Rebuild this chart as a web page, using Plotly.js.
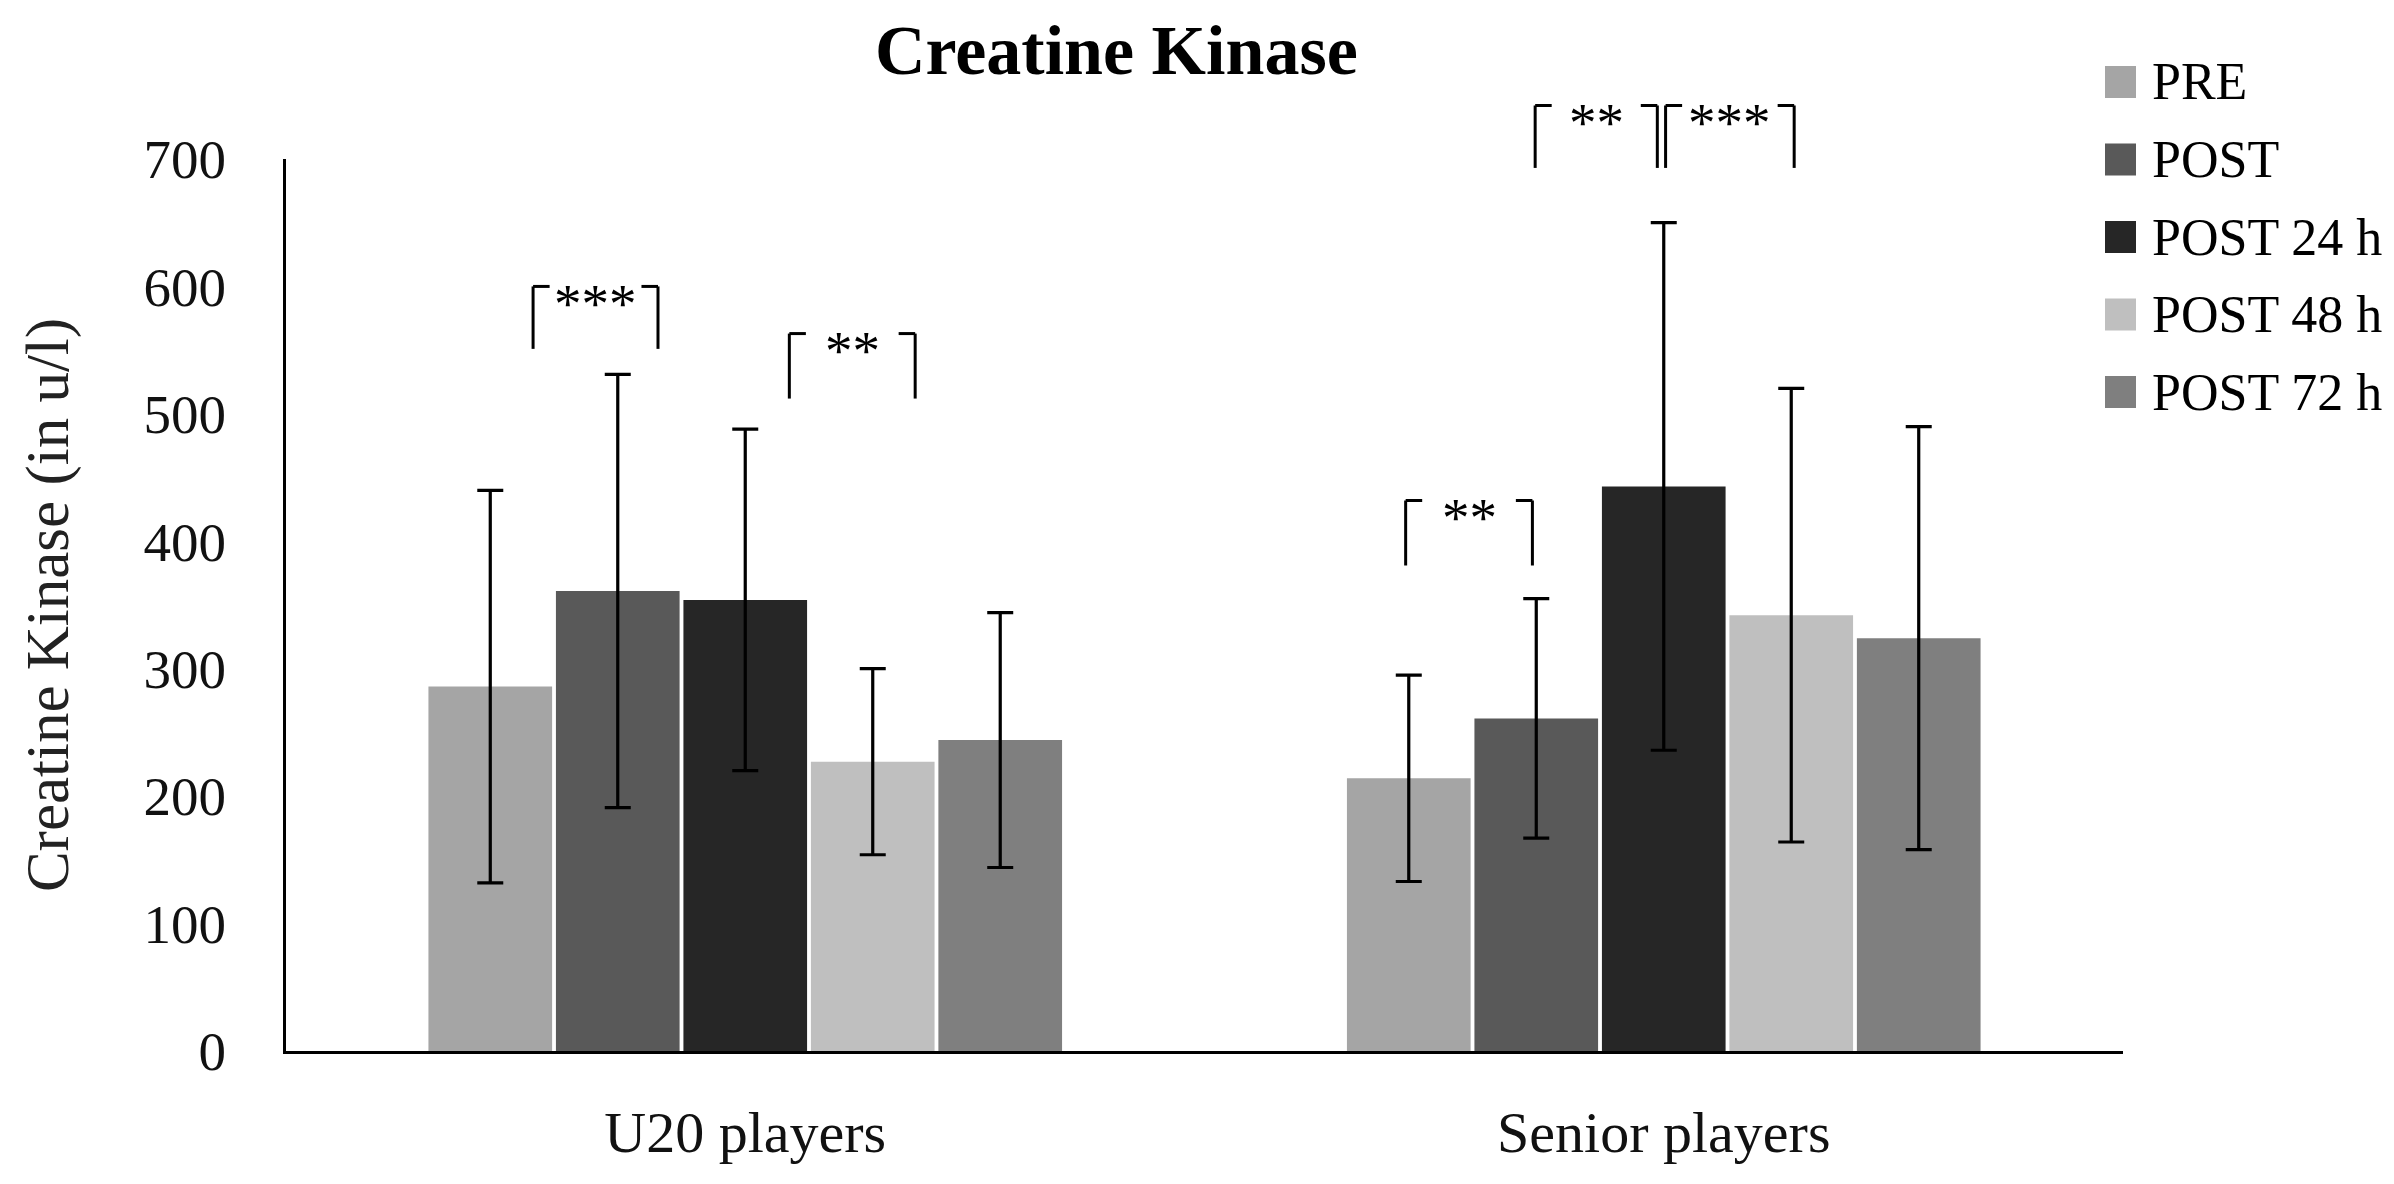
<!DOCTYPE html>
<html>
<head>
<meta charset="utf-8">
<script src="https://cdn.plot.ly/plotly-3.0.1.min.js"></script>
<style>
  html, body { margin: 0; padding: 0; background: #ffffff; }
  #chart { width: 2394px; height: 1184px; }
</style>
</head>
<body>
<div id="chart"></div>
<script>
// ---------------- data ----------------
const categories = ['U20 players', 'Senior players'];
const seriesNames = ['PRE', 'POST', 'POST 24 h', 'POST 48 h', 'POST 72 h'];

const preMean    = [286, 214];
const preSD      = [154, 81];
const postMean   = [361, 261];
const postSD     = [170, 94];
const post24Mean = [354, 443];
const post24SD   = [134, 207];
const post48Mean = [227, 342];
const post48SD   = [73, 178];
const post72Mean = [244, 324];
const post72SD   = [100, 166];

const yTickValues = [0, 100, 200, 300, 400, 500, 600, 700];

// significance brackets: span in category units, heights in u/l
const sigLabels  = ['***', '**', '**', '**', '***'];
const sigFrom    = [-0.231, 0.048, 0.719, 0.860, 1.002];
const sigTo      = [-0.095, 0.185, 0.857, 0.993, 1.142];
const sigTop     = [600, 563, 432, 742, 742];
const sigBottom  = [551, 512, 381, 693, 693];

// ---------------- styles ----------------
const seriesColors = ['#a5a5a5', '#595959', '#262626', '#bfbfbf', '#7f7f7f'];
const FONT = 'Liberation Serif, Times New Roman, serif';
const X_RANGE = [-0.5, 1.5];
const Y_RANGE = [0, 700];
const TICK_ARM = 0.018; // horizontal arm of bracket, category units

const W = 2394, H = 1184;
const M = { l: 286, r: 271, t: 159, b: 133 };
const plotW = W - M.l - M.r, plotH = H - M.t - M.b;

const means = [preMean, postMean, post24Mean, post48Mean, post72Mean];
const sds   = [preSD, postSD, post24SD, post48SD, post72SD];

const traces = seriesNames.map((name, i) => ({
  type: 'bar',
  name: name,
  x: categories,
  y: means[i],
  marker: { color: seriesColors[i], line: { width: 0 } },
  error_y: {
    type: 'data',
    array: sds[i],
    visible: true,
    color: '#000000',
    thickness: 3.2,
    width: 13
  },
  showlegend: false,
  hoverinfo: 'name+y'
}));

const px = v => (v - X_RANGE[0]) / (X_RANGE[1] - X_RANGE[0]);
const py = v => (v - Y_RANGE[0]) / (Y_RANGE[1] - Y_RANGE[0]);
// pixel -> paper helpers for the legend block
const ppx = p => (p - M.l) / plotW;
const ppy = p => (H - M.b - p) / plotH;

const shapes = [];
const annotations = [];
const lineStyle = { color: '#000000', width: 3 };
sigLabels.forEach((lab, i) => {
  const x0 = sigFrom[i], x1 = sigTo[i];
  const yt = sigTop[i], yb = sigBottom[i];
  shapes.push({ type: 'line', xref: 'paper', yref: 'paper',
    x0: px(x0), x1: px(x0), y0: py(yb), y1: py(yt), line: lineStyle });
  shapes.push({ type: 'line', xref: 'paper', yref: 'paper',
    x0: px(x0), x1: px(x0 + TICK_ARM), y0: py(yt), y1: py(yt), line: lineStyle });
  shapes.push({ type: 'line', xref: 'paper', yref: 'paper',
    x0: px(x1), x1: px(x1), y0: py(yb), y1: py(yt), line: lineStyle });
  shapes.push({ type: 'line', xref: 'paper', yref: 'paper',
    x0: px(x1 - TICK_ARM), x1: px(x1), y0: py(yt), y1: py(yt), line: lineStyle });
  annotations.push({
    xref: 'paper', yref: 'paper',
    x: px((x0 + x1) / 2), y: py(yt),
    xanchor: 'center', yanchor: 'middle', yshift: -17,
    text: lab, showarrow: false,
    font: { family: FONT, size: 55, color: '#000000' }
  });
});

// legend block (swatch + label per series)
const LEG_X0 = 2105, LEG_X1 = 2136, LEG_TEXT_X = 2150;
const LEG_Y0 = 82, LEG_STEP = 77.5, LEG_HALF = 16;
seriesNames.forEach((name, i) => {
  const cy = LEG_Y0 + LEG_STEP * i;
  shapes.push({ type: 'rect', xref: 'paper', yref: 'paper',
    x0: ppx(LEG_X0), x1: ppx(LEG_X1), y0: ppy(cy + LEG_HALF), y1: ppy(cy - LEG_HALF),
    fillcolor: seriesColors[i], line: { width: 0 } });
  annotations.push({
    xref: 'paper', yref: 'paper',
    x: ppx(LEG_TEXT_X), y: ppy(cy),
    xanchor: 'left', yanchor: 'middle',
    text: name, showarrow: false,
    font: { family: FONT, size: 52, color: '#000000' }
  });
});

const layout = {
  width: W,
  height: H,
  paper_bgcolor: '#ffffff',
  plot_bgcolor: '#ffffff',
  margin: M,
  barmode: 'group',
  bargap: 0.306,
  bargroupgap: 0.03,
  title: {
    text: 'Creatine Kinase',
    font: { family: FONT, size: 70, color: '#000000', weight: 700 },
    xref: 'paper', x: 0.452, xanchor: 'center',
    yref: 'container', y: 0.958, yanchor: 'middle'
  },
  xaxis: {
    type: 'category',
    range: X_RANGE,
    showline: true, linecolor: '#000000', linewidth: 3,
    ticks: '', showgrid: false, zeroline: false,
    ticklabelstandoff: 28,
    tickfont: { family: FONT, size: 58, color: '#111111' }
  },
  yaxis: {
    range: Y_RANGE,
    tickvals: yTickValues,
    ticktext: yTickValues.map(String),
    showline: true, linecolor: '#000000', linewidth: 3,
    ticks: '', showgrid: false, zeroline: false,
    ticklabelstandoff: 46,
    tickfont: { family: FONT, size: 55, color: '#111111' },
    title: {
      text: 'Creatine Kinase (in u/l)',
      font: { family: FONT, size: 61, color: '#222222' },
      standoff: 56
    }
  },
  showlegend: false,
  shapes: shapes,
  annotations: annotations
};

Plotly.newPlot('chart', traces, layout, { displayModeBar: false, staticPlot: true });
</script>
</body>
</html>
